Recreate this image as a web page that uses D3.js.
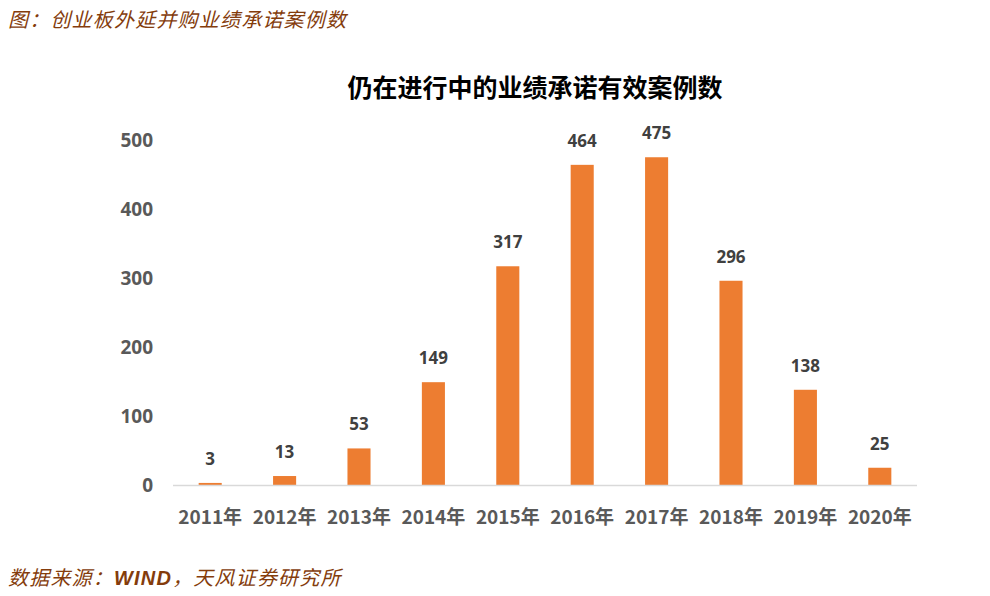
<!DOCTYPE html>
<html>
<head>
<meta charset="utf-8">
<script src="https://cdn.jsdelivr.net/npm/d3@7"></script>
<style>
  body { margin: 0; background: #fff; }
  svg { display: block; font-family: "Noto Sans CJK SC", "Open Sans", sans-serif; }
</style>
</head>
<body>
<div id="chart"></div>
<script>
// 데이터
const years = ["2011年", "2012年", "2013年", "2014年", "2015年", "2016年", "2017年", "2018年", "2019年", "2020年"];
const counts = [3, 13, 53, 149, 317, 464, 475, 296, 138, 25];
const yTicks = [0, 100, 200, 300, 400, 500];

const barColor = "#ED7D31";
const brown = "#843C0C";

const width = 990, height = 596;
const margin = { left: 173, right: 73, top: 140, bottom: 111 };

const svg = d3.select("#chart").append("svg")
    .attr("width", width)
    .attr("height", height);

// 스케일
const x = d3.scaleBand()
    .domain(years)
    .range([margin.left, width - margin.right])
    .paddingInner(0.69)
    .paddingOuter(0.345);

const y = d3.scaleLinear()
    .domain([0, 500])
    .range([height - margin.bottom, margin.top]);

// 상단/하단 텍스트
svg.append("text")
    .attr("x", 8).attr("y", 27)
    .attr("fill", brown)
    .style("font-size", "20px")
    .style("letter-spacing", "1.2px")
    .style("font-style", "italic")
    .text("图：创业板外延并购业绩承诺案例数");

svg.append("text")
    .attr("x", 8).attr("y", 585)
    .attr("fill", brown)
    .style("font-size", "20px")
    .style("letter-spacing", "1.2px")
    .style("font-style", "italic")
    .text("数据来源：")
    .append("tspan")
    .style("font-weight", "bold")
    .style("font-family", "'Liberation Sans', Arial, sans-serif")
    .text("WIND")
    .append("tspan")
    .style("font-weight", "normal")
    .style("font-family", "'Noto Sans CJK SC', sans-serif")
    .text("，天风证券研究所");

// 제목
svg.append("text")
    .attr("x", 535).attr("y", 97)
    .attr("text-anchor", "middle")
    .attr("fill", "#000")
    .style("font-size", "25px")
    .style("font-weight", "bold")
    .text("仍在进行中的业绩承诺有效案例数");

// y축 라벨
svg.append("g")
    .selectAll("text")
    .data(yTicks)
    .enter()
    .append("text")
    .attr("x", 153)
    .attr("y", d => y(d))
    .attr("dy", "0.35em")
    .attr("text-anchor", "end")
    .attr("fill", "#595959")
    .style("font-size", "19px")
    .style("font-weight", "bold")
    .style("font-family", "'Open Sans', sans-serif")
    .text(d => d);

// 막대
svg.append("g")
    .selectAll("rect")
    .data(counts)
    .enter()
    .append("rect")
    .attr("x", (d, i) => x(years[i]))
    .attr("y", d => y(d))
    .attr("width", x.bandwidth())
    .attr("height", d => y(0) - y(d))
    .attr("fill", barColor);

// x축 선
svg.append("line")
    .attr("x1", margin.left).attr("x2", width - margin.right)
    .attr("y1", y(0) + 0.5).attr("y2", y(0) + 0.5)
    .attr("stroke", "#d9d9d9")
    .attr("stroke-width", 1.5);

// 값 라벨
svg.append("g")
    .selectAll("text")
    .data(counts)
    .enter()
    .append("text")
    .attr("x", (d, i) => x(years[i]) + x.bandwidth() / 2)
    .attr("y", d => y(d) - 18)
    .attr("text-anchor", "middle")
    .attr("fill", "#404040")
    .style("font-size", "17px")
    .style("font-weight", "bold")
    .style("font-family", "'Open Sans', sans-serif")
    .text(d => d);

// x축 라벨
svg.append("g")
    .selectAll("text")
    .data(years)
    .enter()
    .append("text")
    .attr("x", d => x(d) + x.bandwidth() / 2)
    .attr("y", 524)
    .attr("text-anchor", "middle")
    .attr("fill", "#595959")
    .style("font-size", "19px")
    .style("font-weight", "bold")
    .text(d => d);
</script>
</body>
</html>
